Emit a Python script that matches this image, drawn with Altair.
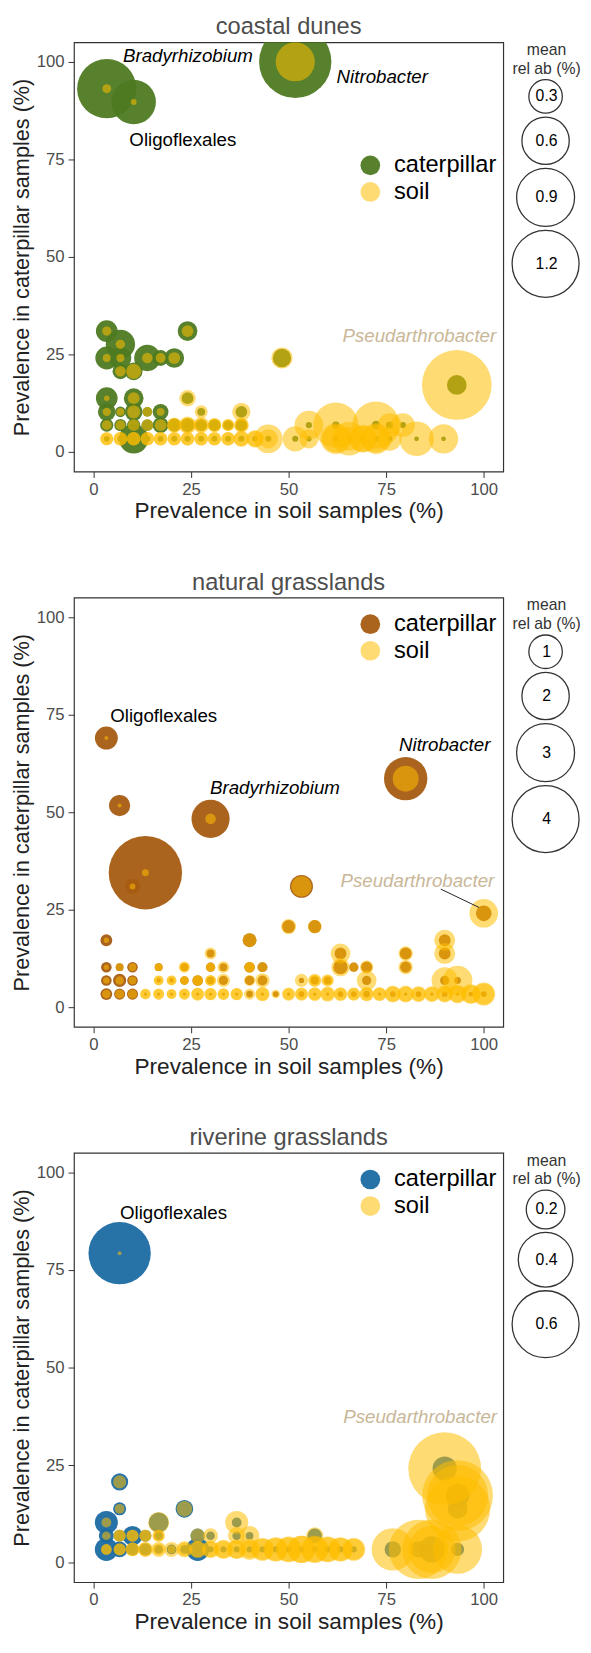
import altair as alt
import pandas as pd

FONT = "Liberation Sans"
SOIL_COLOR = "#FFBE00"
TAN = "#C9B798"

# ---------------- coastal dunes ----------------
cd_soil_prev = [3.4, 10.3, 51.7, 3.4, 24.1, 6.9, 3.4, 6.9, 13.8, 17.2, 20.7, 48.3, 6.9, 10.3, 93.1,
                3.4, 10.3, 24.1, 3.4, 6.9, 10.3, 13.8, 17.2, 27.6, 37.9,
                3.4, 6.9, 10.3, 13.8, 17.2, 20.7, 24.1, 27.6, 31.0, 34.5, 37.9, 55.2, 62.1, 72.4, 75.9, 79.3,
                3.4, 6.9, 10.3, 13.8, 17.2, 20.7, 24.1, 27.6, 31.0, 34.5, 37.9, 41.4, 44.8, 51.7, 55.2,
                62.1, 65.5, 69.0, 72.4, 75.9, 82.8, 89.7]
cd_cat_prev = [93.1, 89.7, 100, 31.0, 31.0, 27.6, 24.1, 24.1, 24.1, 24.1, 24.1, 24.1, 20.7, 20.7, 17.2,
               13.8, 13.8, 13.8, 10.3, 10.3, 10.3, 10.3, 10.3, 10.3, 10.3,
               6.9, 6.9, 6.9, 6.9, 6.9, 6.9, 6.9, 6.9, 6.9, 6.9, 6.9, 6.9, 6.9, 6.9, 6.9, 6.9,
               3.4, 3.4, 3.4, 3.4, 3.4, 3.4, 3.4, 3.4, 3.4, 3.4, 3.4, 3.4, 3.4, 3.4, 3.4,
               3.4, 3.4, 3.4, 3.4, 3.4, 3.4, 3.4]
cd_cat_relab = [0.94, 0.53, 1.40, 0.126, 0.104, 0.23, 0.14, 0.126, 0.185, 0.067, 0.104, 0.09, 0.067, 0.084, 0.104,
                0.126, 0.104, 0.037, 0.084, 0.03, 0.084, 0.026, 0.067, 0.017, 0.037,
                0.046, 0.04, 0.046, 0.037, 0.067, 0.046, 0.05, 0.037, 0.037, 0.026, 0.037, 0.01, 0.015, 0.02, 0.015, 0.01,
                0.009, 0.01, 0.23, 0.01, 0.01, 0.01, 0.01, 0.01, 0.01, 0.01, 0.01, 0.008, 0.01, 0.01, 0.008,
                0.01, 0.01, 0.008, 0.01, 0.008, 0.006, 0.006]
cd_soil_relab = [0.021, 0.009, 0.41, 0.023, 0.037, 0.023, 0.017, 0.017, 0.03, 0.026, 0.037, 0.12, 0.03, 0.062, 1.30,
                 0.008, 0.037, 0.072, 0.019, 0.017, 0.046, 0.026, 0.017, 0.046, 0.09,
                 0.026, 0.026, 0.037, 0.037, 0.037, 0.06, 0.08, 0.067, 0.05, 0.037, 0.06, 0.22, 0.55, 0.6, 0.15, 0.15,
                 0.046, 0.05, 0.05, 0.05, 0.05, 0.046, 0.05, 0.05, 0.046, 0.05, 0.067, 0.08, 0.22, 0.17, 0.1,
                 0.25, 0.3, 0.2, 0.25, 0.15, 0.32, 0.23]
# further taxa sharing the same prevalence values (stacked circles)
cd_more_soil_prev = [3.4, 6.9, 10.3, 13.8, 17.2, 20.7, 24.1, 27.6, 31.0, 34.5, 37.9, 41.4, 44.8,
                     20.7, 24.1, 27.6, 31.0, 34.5, 37.9, 62.1, 65.5, 69.0, 72.4]
cd_more_cat_prev = [3.4, 3.4, 3.4, 3.4, 3.4, 3.4, 3.4, 3.4, 3.4, 3.4, 3.4, 3.4, 3.4,
                    6.9, 6.9, 6.9, 6.9, 6.9, 6.9, 3.4, 3.4, 3.4, 3.4]
cd_more_cat_relab = [0.005, 0.005, 0.005, 0.005, 0.005, 0.005, 0.005, 0.005, 0.005, 0.005, 0.005, 0.005, 0.005,
                     0.01, 0.01, 0.01, 0.01, 0.01, 0.01, 0.005, 0.005, 0.005, 0.005]
cd_more_soil_relab = [0.045, 0.05, 0.05, 0.05, 0.05, 0.05, 0.05, 0.05, 0.05, 0.05, 0.06, 0.07, 0.1,
                      0.05, 0.06, 0.05, 0.05, 0.04, 0.05, 0.2, 0.15, 0.18, 0.2]

# ---------------- natural grasslands ----------------
ng_soil_prev = [3.3, 6.7, 13.3, 10.0, 30.0, 80.0, 53.3, 100, 3.3, 40.0, 50.0, 56.7, 30.0, 63.3, 80.0, 90.0, 90.0,
                3.3, 6.7, 10.0, 16.7, 23.3, 30.0, 33.3, 40.0, 43.3, 63.3, 66.7, 70.0, 80.0,
                3.3, 6.7, 10.0, 16.7, 20.0, 23.3, 26.7, 30.0, 33.3, 40.0, 43.3, 53.3, 56.7, 60.0, 70.0, 90.0, 93.3,
                3.3, 6.7, 10.0, 13.3, 16.7, 20.0, 23.3, 26.7, 30.0, 33.3, 36.7, 40.0, 43.3, 46.7, 50.0,
                53.3, 56.7, 60.0, 63.3, 66.7, 70.0, 73.3, 76.7, 80.0, 83.3, 86.7, 90.0, 93.3, 96.7, 100]
ng_cat_prev = [69.0, 51.7, 34.5, 31.0, 48.3, 58.6, 31.0, 24.1, 17.2, 17.2, 20.7, 20.7, 13.8, 13.8, 13.8, 17.2, 13.8,
               10.3, 10.3, 10.3, 10.3, 10.3, 10.3, 10.3, 10.3, 10.3, 10.3, 10.3, 10.3, 10.3,
               6.9, 6.9, 6.9, 6.9, 6.9, 6.9, 6.9, 6.9, 6.9, 6.9, 6.9, 6.9, 6.9, 6.9, 6.9, 6.9, 6.9,
               3.4, 3.4, 3.4, 3.4, 3.4, 3.4, 3.4, 3.4, 3.4, 3.4, 3.4, 3.4, 3.4, 3.4, 3.4,
               3.4, 3.4, 3.4, 3.4, 3.4, 3.4, 3.4, 3.4, 3.4, 3.4, 3.4, 3.4, 3.4, 3.4, 3.4]
ng_cat_relab = [0.47, 0.40, 4.8, 0.2, 1.30, 1.68, 0.47, 0.22, 0.125, 0.17, 0.15, 0.15, 0.055, 0.125, 0.125, 0.125, 0.125,
                0.1, 0.055, 0.1, 0.055, 0.055, 0.076, 0.055, 0.1, 0.087, 0.185, 0.076, 0.11, 0.11,
                0.1, 0.155, 0.1, 0.02, 0.02, 0.064, 0.1, 0.05, 0.076, 0.08, 0.087, 0.025, 0.06, 0.055, 0.076, 0.076, 0.04,
                0.125, 0.11, 0.11, 0.01, 0.01, 0.01, 0.01, 0.01, 0.01, 0.01, 0.01, 0.04, 0.01, 0.03, 0.01,
                0.03, 0.01, 0.01, 0.03, 0.03, 0.04, 0.01, 0.03, 0.01, 0.03, 0.01, 0.03, 0.01, 0.02, 0.03]
ng_soil_relab = [0.014, 0.014, 0.042, 0.03, 0.10, 0.60, 0.38, 0.73, 0.025, 0.17, 0.2, 0.17, 0.125, 0.35, 0.185, 0.39, 0.39,
                 0.025, 0.055, 0.055, 0.055, 0.11, 0.076, 0.125, 0.1, 0.087, 0.3, 0.076, 0.155, 0.185,
                 0.038, 0.064, 0.055, 0.087, 0.087, 0.064, 0.1, 0.11, 0.155, 0.11, 0.184, 0.155, 0.155, 0.14, 0.35, 0.61, 0.78,
                 0.064, 0.076, 0.076, 0.1, 0.11, 0.087, 0.11, 0.155, 0.14, 0.125, 0.14, 0.11, 0.185, 0.064, 0.155,
                 0.155, 0.17, 0.2, 0.17, 0.155, 0.184, 0.17, 0.25, 0.25, 0.22, 0.22, 0.25, 0.3, 0.35, 0.47]
ng_more_soil_prev = [13.3, 16.7, 20.0, 23.3, 26.7, 30.0, 33.3, 36.7, 43.3, 50.0, 53.3, 56.7, 60.0, 63.3, 66.7,
                     70.0, 73.3, 76.7, 80.0, 83.3, 86.7, 90.0, 93.3, 96.7, 100,
                     16.7, 20.0, 23.3, 26.7, 30.0, 56.7, 60.0, 16.7, 23.3, 30.0, 40.0]
ng_more_cat_prev = [3.4, 3.4, 3.4, 3.4, 3.4, 3.4, 3.4, 3.4, 3.4, 3.4, 3.4, 3.4, 3.4, 3.4, 3.4,
                    3.4, 3.4, 3.4, 3.4, 3.4, 3.4, 3.4, 3.4, 3.4, 3.4,
                    6.9, 6.9, 6.9, 6.9, 6.9, 6.9, 6.9, 10.3, 10.3, 10.3, 10.3]
ng_more_cat_relab = [0.005, 0.005, 0.005, 0.005, 0.005, 0.005, 0.005, 0.005, 0.005, 0.005, 0.005, 0.005, 0.005,
                     0.005, 0.005, 0.005, 0.005, 0.005, 0.005, 0.005, 0.005, 0.005, 0.005, 0.005, 0.005,
                     0.01, 0.01, 0.01, 0.01, 0.01, 0.01, 0.01, 0.03, 0.03, 0.03, 0.03]
ng_more_soil_relab = [0.09, 0.1, 0.08, 0.1, 0.13, 0.12, 0.11, 0.12, 0.15, 0.12, 0.13, 0.14, 0.15, 0.14, 0.13,
                      0.15, 0.15, 0.2, 0.2, 0.18, 0.18, 0.2, 0.25, 0.3, 0.4,
                      0.08, 0.08, 0.06, 0.09, 0.1, 0.12, 0.1, 0.05, 0.08, 0.07, 0.09]

# ---------------- riverine grasslands ----------------
rg_soil_prev = [6.7, 6.7, 6.7, 23.3, 16.7, 3.3, 36.7, 90.0, 93.3, 93.3,
                3.3, 6.7, 10.0, 13.3, 16.7, 26.7, 30.0, 36.7, 40.0, 56.7,
                3.3, 6.7, 10.0, 13.3, 16.7, 20.0, 23.3, 26.7, 30.0, 33.3, 36.7, 40.0, 43.3, 46.7, 50.0,
                53.3, 56.7, 60.0, 63.3, 66.7, 76.7, 83.3, 86.7, 93.3]
rg_cat_prev = [79.3, 20.7, 13.8, 13.8, 10.3, 10.3, 10.3, 24.1, 17.2, 13.8,
               6.9, 6.9, 6.9, 6.9, 6.9, 6.9, 6.9, 6.9, 6.9, 6.9,
               3.4, 3.4, 3.4, 3.4, 3.4, 3.4, 3.4, 3.4, 3.4, 3.4, 3.4, 3.4, 3.4, 3.4, 3.4,
               3.4, 3.4, 3.4, 3.4, 3.4, 3.4, 3.4, 3.4, 3.4]
rg_cat_relab = [0.52, 0.039, 0.023, 0.042, 0.052, 0.071, 0.013, 0.079, 0.075, 0.052,
                0.03, 0.02, 0.052, 0.019, 0.01, 0.028, 0.01, 0.01, 0.008, 0.028,
                0.071, 0.033, 0.02, 0.02, 0.01, 0.013, 0.01, 0.071, 0.005, 0.005, 0.005, 0.005, 0.005, 0.005, 0.005,
                0.005, 0.005, 0.005, 0.005, 0.005, 0.036, 0.036, 0.092, 0.023]
rg_soil_relab = [0.002, 0.023, 0.013, 0.033, 0.059, 0.013, 0.071, 0.71, 0.67, 0.57,
                 0.01, 0.02, 0.019, 0.019, 0.019, 0.028, 0.03, 0.04, 0.052, 0.039,
                 0.015, 0.019, 0.025, 0.025, 0.019, 0.008, 0.025, 0.033, 0.033, 0.04, 0.045, 0.04, 0.06, 0.07, 0.08,
                 0.1, 0.09, 0.08, 0.07, 0.06, 0.24, 0.47, 0.47, 0.32]
rg_more_soil_prev = [3.3, 6.7, 10.0, 13.3, 16.7, 20.0, 23.3, 26.7, 30.0, 33.3, 36.7, 40.0, 43.3, 46.7,
                     50.0, 53.3, 56.7, 60.0, 63.3, 66.7, 6.7, 10.0, 13.3, 16.7, 86.7, 93.3]
rg_more_cat_prev = [3.4, 3.4, 3.4, 3.4, 3.4, 3.4, 3.4, 3.4, 3.4, 3.4, 3.4, 3.4, 3.4, 3.4,
                    3.4, 3.4, 3.4, 3.4, 3.4, 3.4, 6.9, 6.9, 6.9, 6.9, 3.4, 17.2]
rg_more_cat_relab = [0.003, 0.003, 0.003, 0.003, 0.003, 0.003, 0.003, 0.003, 0.003, 0.003, 0.003, 0.003, 0.003,
                     0.003, 0.003, 0.003, 0.003, 0.003, 0.003, 0.003, 0.005, 0.005, 0.005, 0.005, 0.01, 0.01]
rg_more_soil_relab = [0.015, 0.02, 0.025, 0.03, 0.03, 0.03, 0.035, 0.04, 0.04, 0.05, 0.05, 0.06, 0.07, 0.08,
                      0.09, 0.1, 0.1, 0.09, 0.08, 0.07, 0.02, 0.02, 0.02, 0.02, 0.3, 0.5]

# ---------------- annotations (data coordinates) ----------------
cd_ann_label = ["Bradyrhizobium", "Nitrobacter", "Oligoflexales", "Pseudarthrobacter"]
cd_ann_x = [24.2, 74.0, 22.9, 83.5]
cd_ann_y = [101.5, 96.2, 80.0, 29.8]
cd_ann_style = ["italic", "italic", "normal", "tan"]

ng_ann_label = ["Oligoflexales", "Nitrobacter", "Bradyrhizobium", "Pseudarthrobacter"]
ng_ann_x = [18.0, 90.0, 46.5, 83.0]
ng_ann_y = [74.6, 67.3, 56.3, 32.4]
ng_ann_style = ["normal", "italic", "italic", "tan"]
ng_seg_x, ng_seg_y, ng_seg_x2, ng_seg_y2 = [89.0], [30.3], [98.8], [25.6]

rg_ann_label = ["Oligoflexales", "Pseudarthrobacter"]
rg_ann_x = [20.5, 83.7]
rg_ann_y = [89.6, 37.4]
rg_ann_style = ["normal", "tan"]

TITLES = ["coastal dunes", "natural grasslands", "riverine grasslands"]
CAT_COLORS = ["#4E7A21", "#A65C12", "#1B6CA3"]
SIZE_MAX = [1.2, 4.0, 0.6]
SIZE_VALUES = [[0.3, 0.6, 0.9, 1.2], [1, 2, 3, 4], [0.2, 0.4, 0.6]]
LEGEND_Y = [113, 15, 15]
MAX_D = 68  # diameter of the largest legend circle (px)


def long_df(sp, cp, cr, sr):
    rows = []
    for i in range(len(sp)):
        rows.append({"soil_prev": sp[i], "cat_prev": cp[i], "sample": "caterpillar", "relab": cr[i], "layer": 0})
    for i in range(len(sp)):
        rows.append({"soil_prev": sp[i], "cat_prev": cp[i], "sample": "soil", "relab": sr[i], "layer": 1})
    return pd.DataFrame(rows)


def panel(idx, df, ann, seg=None):
    xs = alt.Scale(domain=[-5, 105], nice=False, zero=False)
    ys = alt.Scale(domain=[-5, 105], nice=False, zero=False)
    x = alt.X("soil_prev:Q", scale=xs,
              axis=alt.Axis(values=[0, 25, 50, 75, 100], title="Prevalence in soil samples (%)"))
    y = alt.Y("cat_prev:Q", scale=ys,
              axis=alt.Axis(values=[0, 25, 50, 75, 100], title="Prevalence in caterpillar samples (%)",
                            titleFontSize=22))
    col_leg = alt.Legend(title=None, orient="none", legendX=289, legendY=LEGEND_Y[idx],
                         labelFontSize=24, labelColor="black", symbolSize=400, symbolType="circle",
                         labelOffset=12, rowPadding=3, symbolStrokeWidth=0)
    smax = SIZE_MAX[idx]
    size_leg = alt.Legend(title=["mean", "rel ab (%)"], values=SIZE_VALUES[idx], orient="right", offset=8,
                          titleFontSize=16, titleFontWeight="normal", titleColor="#333", titleLineHeight=19,
                          titleAlign="center", titleAnchor="middle", titlePadding=2,
                          labelFontSize=16, labelColor="black", labelAlign="center",
                          labelOffset={"expr": str(-MAX_D // 2)},
                          symbolFillColor="white", symbolStrokeColor="#333", symbolStrokeWidth=1.3,
                          symbolOpacity=1, symbolType="circle", rowPadding={"expr": "-4"})
    pts = alt.Chart(df).mark_circle(clip=True, strokeWidth=0).encode(
        x=x, y=y,
        color=alt.Color("sample:N", scale=alt.Scale(domain=["caterpillar", "soil"],
                                                     range=[CAT_COLORS[idx], SOIL_COLOR]), legend=col_leg),
        opacity=alt.Opacity("sample:N", scale=alt.Scale(domain=["caterpillar", "soil"], range=[0.95, 0.55]),
                            legend=col_leg),
        size=alt.Size("relab:Q", scale=alt.Scale(type="linear", domain=[0, smax], range=[0, MAX_D * MAX_D],
                                                 zero=True, nice=False),
                      legend=size_leg),
        order=alt.Order("layer:Q"),
    )
    layers = [pts]
    base = alt.Chart(ann)
    layers.append(base.transform_filter(alt.datum.style == "italic").mark_text(
        font=FONT, fontSize=19, fontStyle="italic", color="black").encode(
        x=alt.X("soil_prev:Q"), y=alt.Y("cat_prev:Q"), text="label:N"))
    layers.append(base.transform_filter(alt.datum.style == "normal").mark_text(
        font=FONT, fontSize=19, color="black").encode(
        x=alt.X("soil_prev:Q"), y=alt.Y("cat_prev:Q"), text="label:N"))
    layers.append(base.transform_filter(alt.datum.style == "tan").mark_text(
        font=FONT, fontSize=19, fontStyle="italic", color=TAN).encode(
        x=alt.X("soil_prev:Q"), y=alt.Y("cat_prev:Q"), text="label:N"))
    if seg is not None:
        layers.append(alt.Chart(seg).mark_rule(color="#222", strokeWidth=1).encode(
            x="soil_prev:Q", y="cat_prev:Q", x2="soil_prev2:Q", y2="cat_prev2:Q"))
    return alt.layer(*layers).properties(
        width=436, height=436,
        title=alt.Title(TITLES[idx], fontSize=24, fontWeight="normal", color="#4D4D4D", font=FONT, offset=3))


def ann_df(labels, xs, ys, styles):
    return pd.DataFrame({"label": labels, "soil_prev": xs, "cat_prev": ys, "style": styles})


p1 = panel(0, long_df(cd_soil_prev + cd_more_soil_prev, cd_cat_prev + cd_more_cat_prev,
                      cd_cat_relab + cd_more_cat_relab, cd_soil_relab + cd_more_soil_relab),
           ann_df(cd_ann_label, cd_ann_x, cd_ann_y, cd_ann_style))
p2 = panel(1, long_df(ng_soil_prev + ng_more_soil_prev, ng_cat_prev + ng_more_cat_prev,
                      ng_cat_relab + ng_more_cat_relab, ng_soil_relab + ng_more_soil_relab),
           ann_df(ng_ann_label, ng_ann_x, ng_ann_y, ng_ann_style),
           pd.DataFrame({"soil_prev": ng_seg_x, "cat_prev": ng_seg_y,
                         "soil_prev2": ng_seg_x2, "cat_prev2": ng_seg_y2}))
p3 = panel(2, long_df(rg_soil_prev + rg_more_soil_prev, rg_cat_prev + rg_more_cat_prev,
                      rg_cat_relab + rg_more_cat_relab, rg_soil_relab + rg_more_soil_relab),
           ann_df(rg_ann_label, rg_ann_x, rg_ann_y, rg_ann_style))

chart = alt.vconcat(p1, p2, p3, spacing=47).resolve_scale(
    color="independent", size="independent", opacity="independent"
).properties(
    padding={"left": 2, "top": -6, "right": 0, "bottom": 0}
).configure_view(
    stroke="#333", strokeWidth=1.2
).configure_axis(
    grid=False, domain=False, tickColor="#333", tickSize=6, labelFontSize=17, labelColor="#4D4D4D",
    titleFontSize=23, titleFontWeight="normal", titleColor="#222", labelFont=FONT, titleFont=FONT,
    labelPadding=4, titlePadding=3
).configure_legend(
    labelFont=FONT, titleFont=FONT
)

chart.save("out.html", embed_options={"renderer": "svg", "actions": False})
